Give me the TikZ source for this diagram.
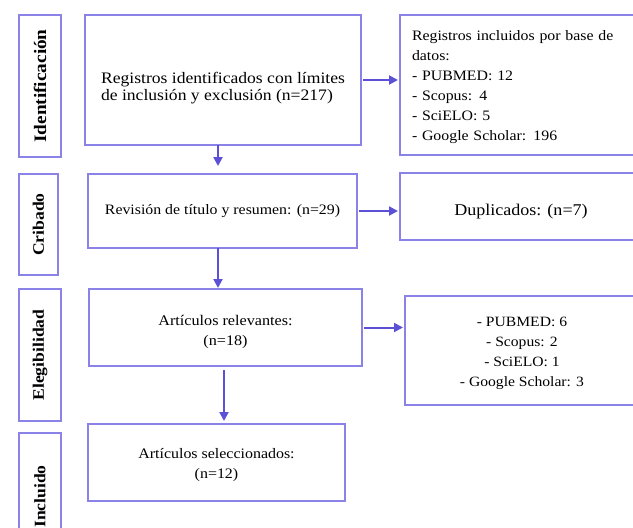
\documentclass[tikz,border=0pt]{standalone}
\usepackage{fontspec}
\setmainfont{Liberation Serif}[FakeStretch=1.1]
\usetikzlibrary{arrows.meta}
\definecolor{boxline}{HTML}{8A82E6}
\definecolor{arrowline}{HTML}{5B50D6}
\newcommand\tam[2]{\fontsize{#1}{#2}\selectfont}

\begin{document}
\begin{tikzpicture}[x=1pt,y=-1pt]
\tikzset{box style/.style = {draw=boxline, line width=1.1pt, inner sep=0pt, outer sep=0pt, align=center},
  text style/.style = {inner sep=0pt, align=center},
  stage style/.style = {box style, rotate=90, font=\tam{16}{18}\bfseries},
  arrow style/.style = {draw=arrowline, line width=2pt, -{Triangle[length=9pt,width=9pt]}}}
   \useasboundingbox (0,0) rectangle (633,528);
   \clip (0,0) rectangle (633,528);
   % etapas
   \node[stage style, minimum width=142pt, minimum height=42pt, font=\tam{17.5}{18}\bfseries] (lab ident) at (40,86) {Identificación};
   \node[stage style, minimum width=101pt, minimum height=39pt] (lab crib) at (38.5,224.5) {Cribado};
   \node[stage style, minimum width=132pt, minimum height=42pt] (lab eleg) at (40,355) {Elegibilidad};
   \node[stage style, minimum width=127pt, minimum height=42pt] (lab incl) at (40,496.5) {Incluido};
   % columna central
   \node[box style, minimum width=276pt, minimum height=130pt,
     label={[text style, align=left, yshift=-8pt, font=\tam{16}{17}]center:Registros identificados con límites\\de inclusión y exclusión (n=217)}] (ident) at (223,80) {};
   \node[box style, minimum width=269pt, minimum height=74pt, font=\tam{14.4}{20}] (cribado) at (222.5,211) {Revisión de título y resumen: (n=29)};
   \node[box style, minimum width=273pt, minimum height=77pt,
     label={[text style, yshift=-4pt, font=\tam{14.7}{20}]center:Artículos relevantes:\\(n=18)}] (relev) at (225.5,327.5) {};
   \node[box style, minimum width=257pt, minimum height=77pt,
     label={[text style, yshift=-2pt, font=\tam{14.5}{20}]center:Artículos seleccionados:\\(n=12)}] (selec) at (216.5,462.5) {};
   % columna derecha
   \node[box style, minimum width=254pt, minimum height=140pt,
     label={[text style, text width=230pt, align=left, yshift=-2.5pt, font=\tam{14.4}{20}]center:Registros incluidos por base de\\datos:\\- PUBMED: 12\\- Scopus: 4\\- SciELO: 5\\- Google Scholar: 196}] (bases) at (527,85) {};
   \node[box style, minimum width=242pt, minimum height=67pt,
     label={[text style, yshift=-5pt, font=\tam{16.4}{20}]center:Duplicados: (n=7)}] (duplic) at (521,206.5) {};
   \node[box style, minimum width=234pt, minimum height=109pt,
     label={[text style, yshift=-2.5pt, font=\tam{14.2}{20}]center:- PUBMED: 6\\- Scopus: 2\\- SciELO: 1\\- Google Scholar: 3}] (detalle) at (522,350.5) {};
   % flechas
   \draw[arrow style, shorten >=8pt] ([xshift=-5pt]ident.south) -- ([xshift=-4.5pt]cribado.north);
   \draw[arrow style, shorten >=1pt] ([xshift=-4.5pt]cribado.south) -- ([xshift=-7.5pt]relev.north);
   \draw[arrow style, shorten <=4pt, shorten >=3pt] ([xshift=-1.5pt]relev.south) -- ([xshift=7.5pt]selec.north);
   \draw[arrow style, shorten <=2pt, shorten >=2pt] (ident.east) -- (ident.east -| bases.west);
   \draw[arrow style, shorten <=2pt, shorten >=2pt] (cribado.east) -- (cribado.east -| duplic.west);
   \draw[arrow style, shorten <=2pt, shorten >=2pt] (relev.east) -- (relev.east -| detalle.west);
\end{tikzpicture}
\end{document}
